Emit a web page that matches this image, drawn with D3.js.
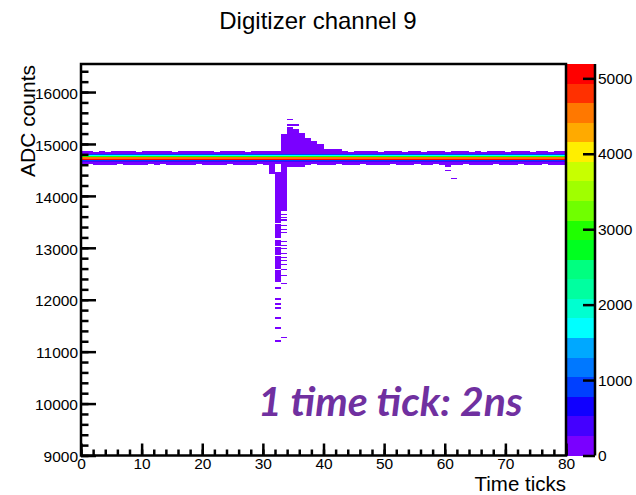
<!DOCTYPE html>
<html>
<head>
<meta charset="utf-8">
<title>Digitizer channel 9</title>
<script src="https://d3js.org/d3.v7.min.js"></script>
<style>
  html, body { margin: 0; padding: 0; background: #ffffff; }
  text { font-family: "Liberation Sans", Arial, Helvetica, sans-serif; fill: #000; }
  .axis path, .axis line { stroke: #000; stroke-width: 2.5px; }
  .axis text { font-size: 15.5px; }
</style>
</head>
<body>
<script>
// axis ticks / labels
var xTickValues = [0, 10, 20, 30, 40, 50, 60, 70, 80];
var yTickValues = [9000, 10000, 11000, 12000, 13000, 14000, 15000, 16000];
var zTickValues = [0, 1000, 2000, 3000, 4000, 5000];

// colour palette, bottom (low) to top (high)
var palette = ["#7a00ff", "#4400ff", "#1000ff", "#0040ff", "#0078ff", "#00a8ff", "#00ffff",
               "#00ffd0", "#00ffa0", "#00ff80", "#00ff20", "#20ff00", "#70ff00", "#a0ff00",
               "#c8ff00", "#ffee00", "#ffaa00", "#ff7800", "#ff3000", "#ff0000"];

// pedestal band: lower edge of each ADC bin and its entries (same for every time tick)
var bandRows   = [14840, 14820, 14800, 14780, 14760, 14740, 14720, 14700, 14680, 14660, 14640, 14620, 14600];
var bandCounts = [40,    150,   250,   900,   1700,  3100,  4600,  5100,  1000,  300,   150,   80,    30];
// ticks where the outermost rows of the band are empty
var topGapTicks    = [2, 4, 9, 15, 22, 27, 44, 49, 53, 56, 60, 64, 66, 70, 74, 77];
var bottomGapTicks = [1, 6, 11, 13, 19, 24, 29, 32, 38, 42, 46, 51, 55, 58, 63, 68, 72, 76];

// pulse: [time tick, ADC low, ADC high, entries]
var pulseCells = [
  [31, 14420, 14600, 40],
  [32, 13480, 14460, 40], [32, 13180, 13460, 40], [32, 13040, 13160, 40], [32, 12860, 13020, 40],
  [32, 12600, 12840, 40], [32, 12340, 12580, 40], [32, 12200, 12240, 30], [32, 12000, 12040, 30],
  [32, 11900, 11940, 30], [32, 11820, 11860, 30], [32, 11620, 11660, 30], [32, 11440, 11480, 30],
  [32, 11180, 11220, 30],
  [33, 13700, 14600, 40], [33, 13640, 13660, 30], [33, 13580, 13600, 30], [33, 13520, 13560, 30],
  [33, 13420, 13440, 30], [33, 13340, 13360, 30], [33, 13280, 13300, 30], [33, 13120, 13140, 30],
  [33, 13040, 13060, 30], [33, 12980, 13000, 30], [33, 12880, 12900, 30], [33, 12800, 12820, 30],
  [33, 12740, 12760, 30], [33, 12660, 12680, 30], [33, 12580, 12600, 30], [33, 12460, 12480, 30],
  [33, 12300, 12320, 30], [33, 11260, 11280, 30],
  [34, 14560, 14600, 30], [35, 14560, 14600, 30], [36, 14560, 14600, 30],
  [60, 14560, 14600, 30], [60, 14480, 14500, 30], [61, 14320, 14340, 30],
  [33, 14860, 15200, 40], [34, 14860, 15320, 40], [34, 15340, 15380, 30], [34, 15460, 15480, 30],
  [35, 14860, 15280, 40], [35, 15340, 15380, 30], [36, 14860, 15220, 40], [37, 14860, 15120, 40],
  [38, 14860, 15060, 40], [39, 14860, 15000, 40], [40, 14860, 14900, 40], [41, 14860, 14900, 40],
  [42, 14860, 14900, 40]
];

var binH = 20, zMax = 5190;
var W = 636, H = 495;
var frame = {left: 81, right: 566, top: 64, bottom: 455.5};

var svg = d3.select("body").append("svg")
    .attr("width", W).attr("height", H);

svg.append("rect").attr("width", W).attr("height", H).attr("fill", "#fff");

var x = d3.scaleLinear().domain([0, 80]).range([frame.left, frame.right]);
var y = d3.scaleLinear().domain([9000, 16540]).range([frame.bottom, frame.top]);
var z = d3.scaleLinear().domain([0, zMax]).range([frame.bottom, frame.top]);

function colorOf(n) {
  return palette[Math.min(palette.length - 1, Math.floor(n / zMax * palette.length))];
}

// build the cell list from the arrays
var cells = [];
d3.range(0, 80).forEach(function(t) {
  bandRows.forEach(function(lo, i) {
    if (i === 0 && topGapTicks.indexOf(t) >= 0) return;
    if (i === bandRows.length - 1 && bottomGapTicks.indexOf(t) >= 0) return;
    cells.push({t: t, lo: lo, hi: lo + binH, n: bandCounts[i]});
  });
});
pulseCells.forEach(function(c) {
  cells.push({t: c[0], lo: c[1], hi: c[2], n: c[3]});
});

svg.append("g").selectAll("rect")
  .data(cells)
  .enter().append("rect")
    .attr("x", function(d) { return x(d.t); })
    .attr("width", function(d) { return x(d.t + 1) - x(d.t); })
    .attr("y", function(d) { return y(d.hi); })
    .attr("height", function(d) { return y(d.lo) - y(d.hi); })
    .attr("fill", function(d) { return colorOf(d.n); })
    .attr("shape-rendering", "crispEdges");

// colour bar
var barX0 = 567, barX1 = 595;
svg.append("g").selectAll("rect")
  .data(palette)
  .enter().append("rect")
    .attr("x", barX0)
    .attr("width", barX1 - barX0)
    .attr("y", function(d, i) { return z(zMax * (i + 1) / palette.length); })
    .attr("height", function(d, i) { return z(zMax * i / palette.length) - z(zMax * (i + 1) / palette.length); })
    .attr("fill", function(d) { return d; })
    .attr("shape-rendering", "crispEdges");

svg.append("g").attr("class", "axis")
  .attr("transform", "translate(" + barX1 + ",0)")
  .call(d3.axisRight(z).tickValues(zTickValues).tickFormat(d3.format("d"))
        .tickSize(-12).tickSizeOuter(0).tickPadding(3));

// axes (ticks inside the frame)
var yMinor = d3.range(9000, 16540, 200);
var xMinor = d3.range(0, 81, 2);

svg.append("g").attr("class", "axis")
  .attr("transform", "translate(" + frame.left + ",0)")
  .call(d3.axisLeft(y).tickValues(yMinor).tickFormat("").tickSize(-7.5).tickSizeOuter(0));
svg.append("g").attr("class", "axis")
  .attr("transform", "translate(" + frame.left + ",0)")
  .call(d3.axisLeft(y).tickValues(yTickValues).tickFormat(d3.format("d"))
        .tickSize(-15).tickSizeOuter(0).tickPadding(3))
  .selectAll("text").attr("dy", "0.4em");

svg.append("g").attr("class", "axis")
  .attr("transform", "translate(0," + frame.bottom + ")")
  .call(d3.axisBottom(x).tickValues(xMinor).tickFormat("").tickSize(-6).tickSizeOuter(0));
svg.append("g").attr("class", "axis")
  .attr("transform", "translate(0," + frame.bottom + ")")
  .call(d3.axisBottom(x).tickValues(xTickValues).tickFormat(d3.format("d"))
        .tickSize(-12).tickSizeOuter(0).tickPadding(2));

svg.selectAll(".axis .domain").remove();

// frame
svg.append("rect")
  .attr("x", frame.left).attr("y", frame.top)
  .attr("width", frame.right - frame.left).attr("height", frame.bottom - frame.top)
  .attr("fill", "none").attr("stroke", "#000").attr("stroke-width", 2.5);
svg.append("line")
  .attr("x1", barX1).attr("x2", barX1).attr("y1", frame.top).attr("y2", frame.bottom)
  .attr("stroke", "#000").attr("stroke-width", 2.5);

// titles
svg.append("text")
  .attr("x", 318).attr("y", 29)
  .attr("text-anchor", "middle")
  .style("font-size", "24px")
  .text("Digitizer channel 9");

svg.append("text")
  .attr("transform", "translate(35," + (frame.top + 1) + ") rotate(-90)")
  .attr("text-anchor", "end")
  .style("font-size", "21px")
  .text("ADC counts");

svg.append("text")
  .attr("x", frame.right).attr("y", 491)
  .attr("text-anchor", "end")
  .style("font-size", "20.5px")
  .text("Time ticks");

svg.append("text")
  .attr("x", 258).attr("y", 416)
  .style("font-family", "Lato, 'Open Sans', sans-serif")
  .style("font-weight", "bold")
  .style("font-style", "italic")
  .style("font-size", "41px")
  .style("fill", "#7030a0")
  .text("1 time tick: 2ns");
</script>
</body>
</html>
